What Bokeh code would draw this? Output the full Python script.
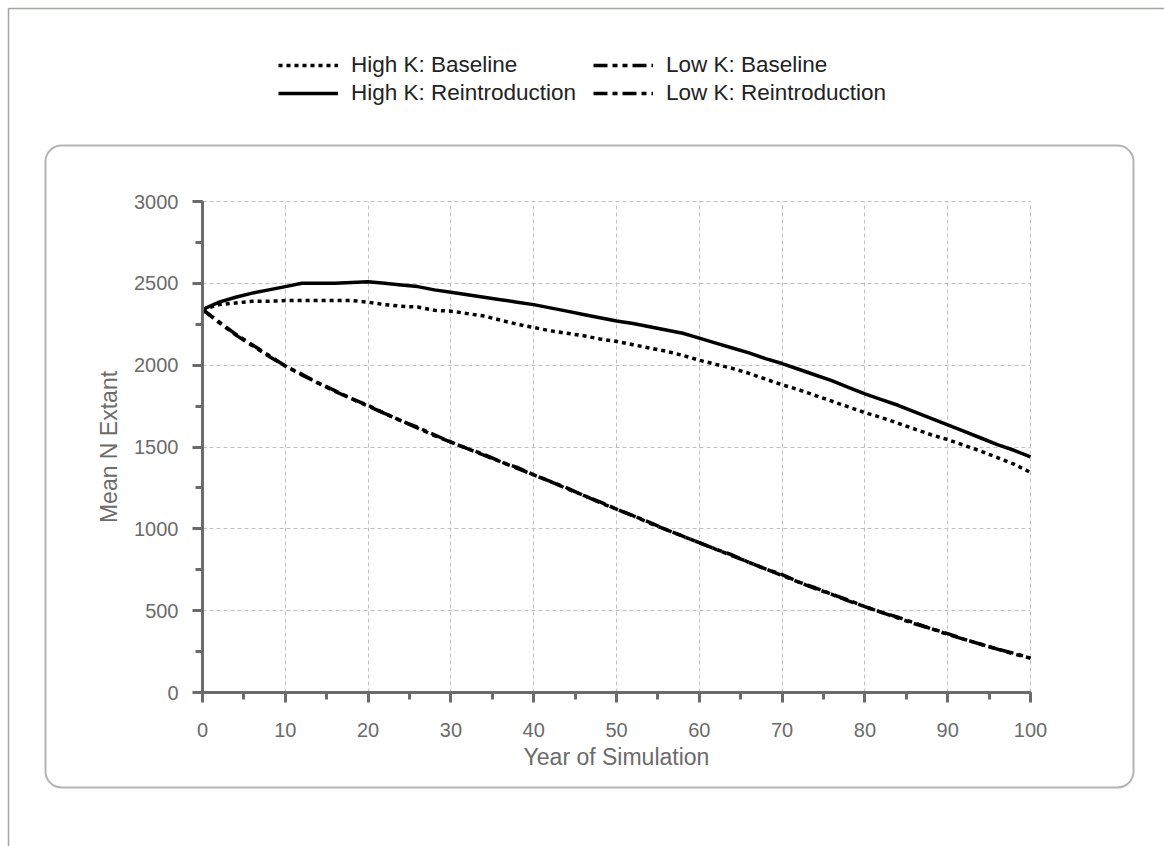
from bokeh.plotting import figure
from bokeh.models import (Range1d, Legend, LegendItem, SingleIntervalTicker,
                          BoxAnnotation, LinearAxis, Grid)
from bokeh.embed import file_html
from bokeh.resources import INLINE

years = list(range(0, 101, 2))

high_k_baseline = [2340, 2370, 2380, 2390, 2390, 2395, 2395, 2395, 2395, 2395,
                   2385, 2370, 2360, 2355, 2335, 2330, 2315, 2300, 2275, 2250,
                   2230, 2210, 2195, 2180, 2160, 2145, 2125, 2105, 2085, 2060,
                   2030, 2005, 1980, 1950, 1915, 1880, 1850, 1815, 1780, 1745,
                   1710, 1680, 1645, 1610, 1575, 1545, 1510, 1475, 1435, 1395,
                   1345]

high_k_reintro = [2340, 2385, 2415, 2440, 2460, 2480, 2500, 2500, 2500, 2505,
                  2510, 2500, 2490, 2480, 2460, 2445, 2430, 2415, 2400, 2385,
                  2370, 2350, 2330, 2310, 2290, 2270, 2255, 2235, 2215, 2195,
                  2165, 2135, 2105, 2075, 2040, 2010, 1975, 1940, 1905, 1865,
                  1825, 1790, 1755, 1715, 1675, 1635, 1595, 1555, 1515, 1480,
                  1440]

low_k_baseline = [2340, 2260, 2185, 2120, 2055, 1995, 1940, 1890, 1840, 1795,
                  1750, 1705, 1660, 1615, 1570, 1530, 1490, 1450, 1410, 1370,
                  1330, 1290, 1245, 1205, 1160, 1120, 1080, 1035, 995, 955,
                  915, 875, 835, 795, 755, 715, 675, 635, 600, 560,
                  525, 490, 455, 420, 390, 355, 325, 295, 265, 235,
                  210]

low_k_reintro = [2340, 2265, 2190, 2125, 2060, 1995, 1945, 1890, 1845, 1795,
                 1755, 1705, 1660, 1620, 1575, 1530, 1490, 1455, 1410, 1375,
                 1330, 1290, 1250, 1205, 1165, 1120, 1080, 1040, 995, 955,
                 915, 875, 840, 795, 755, 720, 675, 640, 600, 565,
                 525, 490, 460, 425, 390, 360, 325, 295, 265, 240,
                 210]

labels = ["High K: Baseline", "High K: Reintroduction",
          "Low K: Baseline", "Low K: Reintroduction"]

X_MIN, X_MAX = 0, 100
Y_MIN, Y_MAX = 0, 3000

FONT = "Liberation Sans"
AX = "#6b6b6b"

# page geometry (pixels, from top-left)
W, H = 1164, 846
PL, PR, PT, PB = 202, 1030, 201, 692          # plot area edges
BOX_L, BOX_R, BOX_T, BOX_B = 45, 1133, 145, 787  # rounded panel
LEG_X, LEG_T, ROW_H = 278, 51, 28

xs = (PR - PL) / (X_MAX - X_MIN)
ys = (PB - PT) / (Y_MAX - Y_MIN)
x_range = Range1d(X_MIN - PL / xs, X_MAX + (W - PR) / xs)
y_range = Range1d(Y_MIN - (H - PB) / ys, Y_MAX + PT / ys)

p = figure(width=W, height=H, min_border=0,
           x_range=x_range, y_range=y_range,
           x_axis_location=None, y_axis_location=None,
           output_backend="svg", toolbar_location=None,
           background_fill_color="white", border_fill_color="white")
p.outline_line_color = None
p.xgrid.visible = False
p.ygrid.visible = False

xaxis = LinearAxis(fixed_location=Y_MIN, bounds=(X_MIN, X_MAX),
                   ticker=SingleIntervalTicker(interval=10, num_minor_ticks=2),
                   axis_label="Year of Simulation")
yaxis = LinearAxis(fixed_location=X_MIN, bounds=(Y_MIN, Y_MAX),
                   ticker=SingleIntervalTicker(interval=500, num_minor_ticks=2),
                   axis_label="Mean N Extant")
p.add_layout(xaxis, "below")
p.add_layout(yaxis, "left")

xgrid = Grid(dimension=0, ticker=xaxis.ticker, bounds=(X_MIN, X_MAX),
             cross_bounds=(Y_MIN, Y_MAX))
ygrid = Grid(dimension=1, ticker=yaxis.ticker, bounds=(Y_MIN, Y_MAX),
             cross_bounds=(X_MIN, X_MAX))
for g in (xgrid, ygrid):
    g.grid_line_color = "#c4bcc8"
    g.grid_line_width = 1
    g.grid_line_dash = "4 3"
    p.add_layout(g)

# outer frame (top and left edges) and rounded panel; screen y counts from bottom
p.add_layout(BoxAnnotation(left=8, right=W + 50, top=H - 8, bottom=-50,
                           left_units="screen", right_units="screen",
                           top_units="screen", bottom_units="screen",
                           fill_alpha=0, line_color="#a0a8a0", line_alpha=1,
                           line_width=1.5, level="underlay"))
p.add_layout(BoxAnnotation(left=BOX_L, right=BOX_R, top=H - BOX_T, bottom=H - BOX_B,
                           left_units="screen", right_units="screen",
                           top_units="screen", bottom_units="screen",
                           fill_alpha=0, line_color="#b4b4b4", line_alpha=1,
                           line_width=2, border_radius=16, level="underlay"))

r_hb = p.line(years, high_k_baseline, line_color="black", line_width=3.5, line_dash="4 4")
r_hr = p.line(years, high_k_reintro, line_color="black", line_width=3.5)
r_lb = p.line(years, low_k_baseline, line_color="black", line_width=3.5, line_dash="14 5 5 5 5 5")
r_lr = p.line(years, low_k_reintro, line_color="black", line_width=3.5, line_dash="14 5 5 5")

for ax in (xaxis, yaxis):
    ax.axis_line_color = AX
    ax.axis_line_width = 3
    ax.major_tick_line_color = AX
    ax.major_tick_line_width = 3
    ax.minor_tick_line_color = AX
    ax.minor_tick_line_width = 3
    ax.major_tick_out = 10
    ax.major_tick_in = 0
    ax.minor_tick_out = 7
    ax.minor_tick_in = 0
    ax.major_label_text_font = FONT
    ax.major_label_text_font_size = "20px"
    ax.major_label_text_color = AX
    ax.axis_label_text_font = FONT
    ax.axis_label_text_font_size = "23px"
    ax.axis_label_text_color = AX
    ax.axis_label_text_font_style = "normal"

xaxis.major_label_standoff = 20
xaxis.axis_label_standoff = 4
yaxis.major_label_standoff = 14
yaxis.axis_label_standoff = 9

legend = Legend(items=[LegendItem(label=labels[0], renderers=[r_hb]),
                       LegendItem(label=labels[1], renderers=[r_hr]),
                       LegendItem(label=labels[2], renderers=[r_lb]),
                       LegendItem(label=labels[3], renderers=[r_lr])],
                ncols=2, location=(LEG_X, H - LEG_T - 2 * ROW_H),
                glyph_width=60, glyph_height=ROW_H, label_height=ROW_H,
                label_width=242, label_standoff=13,
                spacing=0, padding=0, margin=0,
                label_text_font=FONT, label_text_font_size="22.5px",
                label_text_color="#222222",
                border_line_alpha=0, background_fill_alpha=0)
p.add_layout(legend, "center")

open("out.html", "w").write(file_html(p, INLINE))
